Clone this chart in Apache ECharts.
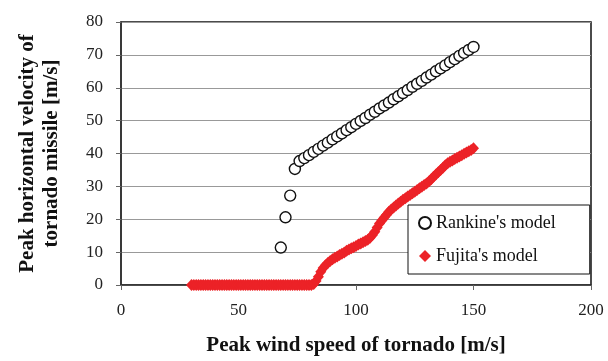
<!DOCTYPE html>
<html>
<head>
<meta charset="utf-8">
<script src="https://cdn.jsdelivr.net/npm/echarts@6/dist/echarts.min.js"></script>
<style>
  html, body { margin: 0; padding: 0; background: #fff; }
  #chart { width: 608px; height: 361px; }
</style>
</head>
<body>
<div id="chart"></div>
<script>
// Rankine's model: wind speed [m/s] -> missile velocity [m/s]
const rankineSpeed = [68, 70, 72, 74, 76, 78, 80, 82, 84, 86, 88, 90, 92, 94, 96, 98, 100,
  102, 104, 106, 108, 110, 112, 114, 116, 118, 120, 122, 124, 126, 128, 130, 132, 134,
  136, 138, 140, 142, 144, 146, 148, 150]
const rankineVel = [11.4, 20.6, 27.2, 35.3, 37.7, 38.6, 39.5, 40.5, 41.4, 42.4, 43.3, 44.3,
  45.2, 46.1, 47.1, 48.0, 49.0, 49.9, 50.8, 51.8, 52.7, 53.7, 54.6, 55.5, 56.5, 57.4, 58.4,
  59.3, 60.3, 61.2, 62.1, 63.1, 64.0, 65.0, 65.9, 66.8, 67.8, 68.7, 69.7, 70.6, 71.5, 72.4]

// Fujita's model: wind speed 30..150 step 1
const fujitaSpeed = [30, 31, 32, 33, 34, 35, 36, 37, 38, 39, 40, 41, 42, 43, 44, 45, 46, 47,
  48, 49, 50, 51, 52, 53, 54, 55, 56, 57, 58, 59, 60, 61, 62, 63, 64, 65, 66, 67, 68, 69, 70,
  71, 72, 73, 74, 75, 76, 77, 78, 79, 80, 81, 82, 83, 84, 85, 86, 87, 88, 89, 90, 91, 92, 93,
  94, 95, 96, 97, 98, 99, 100, 101, 102, 103, 104, 105, 106, 107, 108, 109, 110, 111, 112,
  113, 114, 115, 116, 117, 118, 119, 120, 121, 122, 123, 124, 125, 126, 127, 128, 129, 130,
  131, 132, 133, 134, 135, 136, 137, 138, 139, 140, 141, 142, 143, 144, 145, 146, 147, 148,
  149, 150]
const fujitaVel = [0, 0, 0, 0, 0, 0, 0, 0, 0, 0, 0, 0, 0, 0, 0, 0, 0, 0, 0, 0, 0, 0, 0, 0, 0,
  0, 0, 0, 0, 0, 0, 0, 0, 0, 0, 0, 0, 0, 0, 0, 0, 0, 0, 0, 0, 0, 0, 0, 0, 0, 0, 0,
  0.3, 1.2, 2.5, 4.0, 5.2, 6.0, 6.7, 7.3, 7.8, 8.3, 8.7, 9.1, 9.5, 9.9, 10.4, 10.8, 11.2,
  11.5, 11.9, 12.3, 12.6, 13.0, 13.4, 13.8, 14.4, 15.2, 16.2, 17.5, 18.7, 19.6, 20.5, 21.4,
  22.3, 23.0, 23.6, 24.2, 24.8, 25.3, 25.9, 26.4, 26.9, 27.4, 27.9, 28.4, 28.9, 29.4, 29.9,
  30.4, 30.9, 31.5, 32.2, 32.9, 33.6, 34.3, 35.0, 35.7, 36.4, 37.0, 37.5, 37.9, 38.3, 38.7,
  39.1, 39.5, 39.9, 40.3, 40.7, 41.1, 41.6]

const xTicks = { min: 0, max: 200, interval: 50 }
const yTicks = { min: 0, max: 80, interval: 10 }

const chart = echarts.init(document.getElementById('chart'))
const serif = 'Liberation Serif'
const pairs = (xs, ys) => xs.map((x, i) => [x, ys[i]])

const option = {
  animation: false,
  textStyle: { fontFamily: serif },
  grid: {
    left: 121, right: 17, top: 22, bottom: 73,
    show: true, borderColor: '#111', borderWidth: 1.5
  },
  legend: {
    orient: 'vertical',
    left: 408,
    top: 205,
    padding: [9, 34, 9, 10],
    itemGap: 15,
    itemWidth: 12,
    itemHeight: 12,
    backgroundColor: '#fff',
    borderColor: '#111',
    borderWidth: 1,
    textStyle: { fontFamily: serif, fontSize: 18, color: '#111' },
    data: ["Rankine's model", "Fujita's model"]
  },
  xAxis: {
    type: 'value',
    min: xTicks.min, max: xTicks.max, interval: xTicks.interval,
    name: 'Peak wind speed of tornado [m/s]',
    nameLocation: 'middle',
    nameGap: 50,
    nameTextStyle: { fontFamily: serif, fontSize: 21, fontWeight: 'bold', color: '#111' },
    axisLine: { lineStyle: { color: '#333', width: 1.5 } },
    axisTick: { show: true, inside: false, length: 5, lineStyle: { color: '#666' } },
    axisLabel: { fontFamily: serif, fontSize: 17, color: '#222', margin: 17 },
    splitLine: { show: false }
  },
  yAxis: {
    type: 'value',
    min: yTicks.min, max: yTicks.max, interval: yTicks.interval,
    name: 'Peak horizontal velocity of\ntornado missile [m/s]',
    nameLocation: 'middle',
    nameRotate: 90,
    nameGap: 57,
    nameTextStyle: { fontFamily: serif, fontSize: 21, fontWeight: 'bold', color: '#111', lineHeight: 24 },
    axisLine: { show: true, lineStyle: { color: '#333', width: 1.5 } },
    axisTick: { show: true, inside: false, length: 5, lineStyle: { color: '#666' } },
    axisLabel: { fontFamily: serif, fontSize: 17, color: '#222', margin: 18 },
    splitLine: { show: true, lineStyle: { color: '#999', width: 1 } }
  },
  series: [
    {
      name: "Rankine's model",
      type: 'scatter',
      symbol: 'circle',
      symbolSize: 11,
      itemStyle: { color: '#fff', borderColor: '#111', borderWidth: 1.4, opacity: 1 },
      data: pairs(rankineSpeed, rankineVel),
      z: 3
    },
    {
      name: "Fujita's model",
      type: 'scatter',
      symbol: 'diamond',
      symbolSize: [11, 12],
      itemStyle: { color: '#ec2227', opacity: 1 },
      data: pairs(fujitaSpeed, fujitaVel),
      z: 2
    }
  ]
}
chart.setOption(option)
</script>
</body>
</html>
